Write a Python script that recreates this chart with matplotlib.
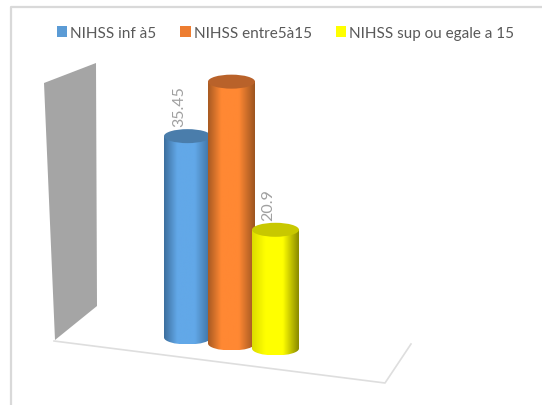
import numpy as np
import matplotlib.pyplot as plt
from matplotlib.colors import LinearSegmentedColormap
from matplotlib.patches import Ellipse, Patch, PathPatch, Polygon
from matplotlib.path import Path

plt.rcParams['font.family'] = ['Lato', 'DejaVu Sans']

# Chart data
series_names = ['NIHSS inf à5', 'NIHSS entre5à15', 'NIHSS sup ou egale a 15']
values = [35.45, 46.1, 20.9]
value_labels = ['35.45', None, '20.9']
legend_colors = ['#5b9bd5', '#ed7d31', '#ffff00']

# Fake 3D layout, in picture pixels
px_per_unit = 5.68
centers = [187.5, 231.5, 275.5]
bases = [338.5, 344.5, 349.5]
label_offsets = [-8, 0, -7]
half_width = 23.5
ellipse_h = 14
left_colors = ['#3d6f9e', '#a85a22', '#dcdc00']
right_colors = ['#3d6f9e', '#9c5420', '#8a8a00']
mid_colors = ['#62a8e8', '#ff8833', '#ffff00']
top_colors = ['#4a7dab', '#b9622a', '#c8c800']

fig = plt.figure(figsize=(5.42, 4.06), dpi=100)
ax = fig.add_axes([0, 0, 1, 1])
ax.set_xlim(0, 542)
ax.set_ylim(406, 0)
ax.axis('off')

# Outer chart frame
ax.plot([11, 11, 542], [406, 7.5, 7.5], color='#d9d9d9', linewidth=1.6)

# Back wall and floor
ax.add_patch(Polygon([(44, 84), (96, 64), (97, 307), (55, 341)], closed=True,
                     facecolor='#a5a5a5', edgecolor='none'))
ax.plot([54, 385, 411], [342, 384, 345], color='#dedede', linewidth=1.2)


def draw_cylinder(center, base, value, edge_l, edge_r, mid, top):
    left = center - half_width
    right = center + half_width
    top_y = base - value * px_per_unit
    cmap = LinearSegmentedColormap.from_list('cyl', [(0, edge_l), (0.28, mid), (0.66, mid), (1, edge_r)])
    shade = np.linspace(0, 1, 128).reshape(1, -1)
    img = ax.imshow(shade, cmap=cmap, extent=[left, right, base + ellipse_h / 2, top_y],
                    aspect='auto', zorder=center)
    # body outline with rounded bottom, used as clip for the shading
    k = 0.5523
    h = ellipse_h / 2
    verts = [(left, top_y), (left, base),
             (left, base + k * h), (center - k * half_width, base + h), (center, base + h),
             (center + k * half_width, base + h), (right, base + k * h), (right, base),
             (right, top_y), (left, top_y)]
    codes = [Path.MOVETO, Path.LINETO, Path.CURVE4, Path.CURVE4, Path.CURVE4,
             Path.CURVE4, Path.CURVE4, Path.CURVE4, Path.LINETO, Path.CLOSEPOLY]
    body = PathPatch(Path(verts, codes), facecolor='none', edgecolor='none', transform=ax.transData)
    ax.add_patch(body)
    img.set_clip_path(body)
    ax.add_patch(Ellipse((center, top_y), 2 * half_width, ellipse_h, facecolor=top,
                         edgecolor='none', zorder=center + 0.5))
    return top_y


for i in range(len(values)):
    top_y = draw_cylinder(centers[i], bases[i], values[i], left_colors[i], right_colors[i],
                          mid_colors[i], top_colors[i])
    if value_labels[i] is not None:
        ax.text(centers[i] + label_offsets[i], top_y - 10, value_labels[i], rotation=90,
                ha='center', va='bottom', color='#a0a0a0', fontsize=11.5, zorder=300)

# imshow resets the limits
ax.set_xlim(0, 542)
ax.set_ylim(406, 0)

handles = [Patch(facecolor=c, edgecolor='none', label=n) for c, n in zip(legend_colors, series_names)]
ax.legend(handles=handles, ncol=3, frameon=False, loc='center', bbox_to_anchor=(285.5 / 542, 1 - 34 / 406),
          fontsize=11, labelcolor='#595959', handlelength=0.7, handleheight=0.7,
          handletextpad=0.2, columnspacing=1.55, borderpad=0)

plt.savefig('out.png', dpi=100)
